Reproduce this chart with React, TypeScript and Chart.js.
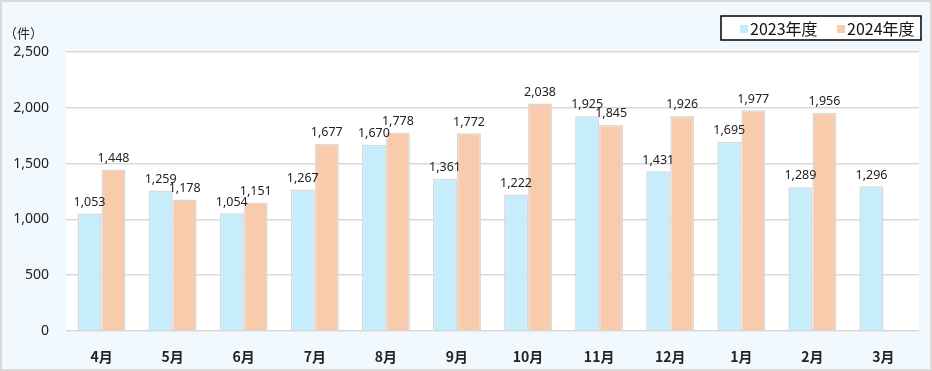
import React, { useEffect, useRef } from "react";
import { Chart, registerables } from "chart.js";

Chart.register(...registerables);

const categories = ["4月", "5月", "6月", "7月", "8月", "9月", "10月", "11月", "12月", "1月", "2月", "3月"];
const series2023 = [1053, 1259, 1054, 1267, 1670, 1361, 1222, 1925, 1431, 1695, 1289, 1296];
const series2024: (number | null)[] = [1448, 1178, 1151, 1677, 1778, 1772, 2038, 1845, 1926, 1977, 1956, null];
const seriesLabels = ["2023年度", "2024年度"];
const yTicks = [0, 500, 1000, 1500, 2000, 2500];
const unitLabel = "（件）";

const COLOR_2023 = "#C5EDFB";
const COLOR_2024 = "#F8CBAD";
const BAR_BORDER = "#D9D9D9";
const BG = "#F2F9FE";
const JP_FONT = "'Noto Sans CJK JP', 'Noto Sans', sans-serif";
const NUM_FONT = "'Noto Sans', 'DejaVu Sans', sans-serif";

const fmt = (v: number) => v.toLocaleString("en-US");

const decorPlugin = {
  id: "decor",
  beforeDraw(chart: any) {
    const { ctx, chartArea, width, height } = chart;
    ctx.save();
    ctx.fillStyle = BG;
    ctx.fillRect(0, 0, width, height);
    ctx.fillStyle = "#FFFFFF";
    ctx.fillRect(chartArea.left, chartArea.top, chartArea.right - chartArea.left, chartArea.bottom - chartArea.top);
    ctx.strokeStyle = "#D9D9D9";
    ctx.lineWidth = 2;
    ctx.strokeRect(1, 1, width - 2, height - 2);
    ctx.restore();
  },
  afterDatasetsDraw(chart: any) {
    const { ctx } = chart;
    ctx.save();
    ctx.font = `12.5px ${NUM_FONT}`;
    ctx.fillStyle = "#222";
    ctx.textAlign = "center";
    ctx.textBaseline = "bottom";
    chart.data.datasets.forEach((ds: any, i: number) => {
      const meta = chart.getDatasetMeta(i);
      meta.data.forEach((el: any, j: number) => {
        const v = ds.data[j];
        if (v === null || v === undefined) return;
        ctx.fillText(fmt(v), el.x, el.y - 5);
      });
    });
    ctx.restore();
  },
  afterDraw(chart: any) {
    const { ctx } = chart;
    ctx.save();
    // unit label
    ctx.font = `13px ${JP_FONT}`;
    ctx.fillStyle = "#222";
    ctx.textAlign = "left";
    ctx.textBaseline = "middle";
    ctx.fillText(unitLabel, 4, 33);
    // legend box
    const bx = 721, by = 16, bw = 200, bh = 24;
    ctx.fillStyle = "#FFFFFF";
    ctx.fillRect(bx, by, bw, bh);
    ctx.strokeStyle = "#000";
    ctx.lineWidth = 1.5;
    ctx.strokeRect(bx, by, bw, bh);
    ctx.font = `16px ${JP_FONT}`;
    ctx.textBaseline = "middle";
    const items = [
      { x: 740, color: COLOR_2023, label: chart.data.datasets[0].label },
      { x: 837, color: COLOR_2024, label: chart.data.datasets[1].label },
    ];
    items.forEach((it) => {
      ctx.fillStyle = it.color;
      ctx.fillRect(it.x, 25, 8, 8);
      ctx.fillStyle = "#111";
      ctx.fillText(it.label, it.x + 10, 29);
    });
    ctx.restore();
  },
};

export default function App() {
  const ref = useRef<HTMLCanvasElement>(null);
  useEffect(() => {
    document.body.style.margin = "0";
    const chart = new Chart(ref.current!, {
      type: "bar",
      data: {
        labels: categories,
        datasets: [
          {
            label: seriesLabels[0],
            data: series2023,
            backgroundColor: COLOR_2023,
            borderColor: BAR_BORDER,
            borderWidth: 1.5,
            categoryPercentage: 0.675,
            barPercentage: 1,
          },
          {
            label: seriesLabels[1],
            data: series2024,
            backgroundColor: COLOR_2024,
            borderColor: BAR_BORDER,
            borderWidth: 1.5,
            categoryPercentage: 0.675,
            barPercentage: 1,
          },
        ],
      },
      options: {
        responsive: false,
        animation: false,
        layout: { padding: { top: 52, right: 13, left: 0, bottom: 0 } },
        plugins: {
          legend: { display: false },
          tooltip: { enabled: false },
        },
        scales: {
          x: {
            grid: { display: false },
            border: { display: false },
            ticks: {
              color: "#222",
              font: { family: JP_FONT, size: 14, weight: "bold" },
              padding: 9,
              maxRotation: 0,
            },
            afterFit(scale: any) {
              scale.height = 40;
            },
          },
          y: {
            min: 0,
            max: 2500,
            afterBuildTicks(scale: any) {
              scale.ticks = yTicks.map((v) => ({ value: v }));
            },
            grid: { color: "#D9D9D9", lineWidth: 1.5, drawTicks: false },
            border: { display: false },
            ticks: {
              color: "#222",
              font: { family: NUM_FONT, size: 14 },
              padding: 17,
              callback: (v: any) => fmt(Number(v)),
            },
            afterFit(scale: any) {
              scale.width = 66;
            },
          },
        },
      },
      plugins: [decorPlugin],
    });
    return () => chart.destroy();
  }, []);
  return (
    <div style={{ position: "absolute", left: 0, top: 0, width: 932, height: 371 }}>
      <canvas ref={ref} width={932} height={371} style={{ display: "block" }} />
    </div>
  );
}
